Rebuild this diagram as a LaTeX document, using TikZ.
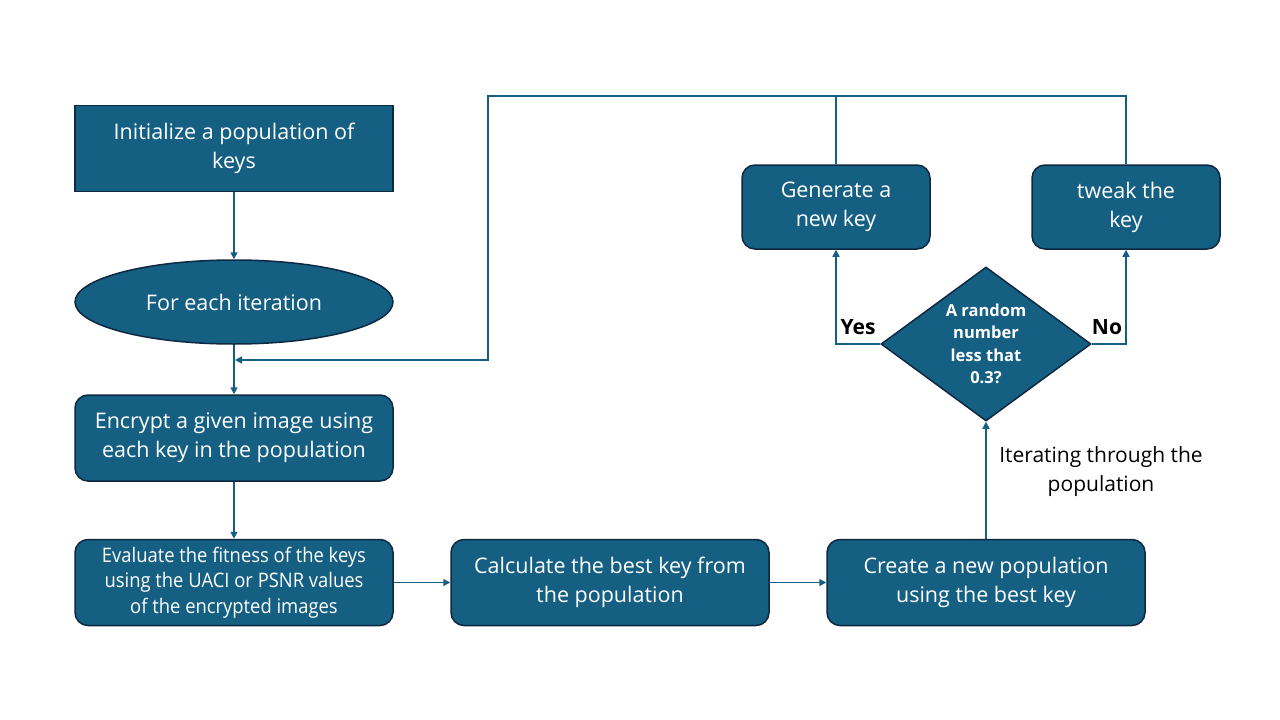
\documentclass[tikz,border=0pt]{standalone}
\usepackage{fontspec}
\setmainfont{Open Sans}
\newfontfamily\narrowfont[FakeStretch=0.92]{Open Sans}
\usetikzlibrary{shapes.geometric,arrows.meta}
\definecolor{boxfill}{HTML}{156082}
\definecolor{boxline}{HTML}{0E2841}
\begin{document}
\begin{tikzpicture}[x=1pt,y=-1pt,
  box/.style={draw=boxline,line width=1.5pt,fill=boxfill,text=white,align=center,
    minimum width=318pt,minimum height=86pt,inner sep=2pt,font=\fontsize{21.5}{29}\selectfont},
  rbox/.style={box,rounded corners=13pt},
  sbox/.style={rbox,minimum width=188pt,minimum height=84pt},
  conn/.style={draw=boxfill,line width=1.5pt,-{Triangle[length=7pt,width=7pt]}},
  plain/.style={draw=boxfill,line width=1.5pt},
  lbl/.style={font=\fontsize{21}{24}\selectfont\bfseries,text=black},
  note/.style={font=\fontsize{21}{29}\selectfont,text=black,align=center}]
\useasboundingbox (0,0) rectangle (1280,720);
\fill[white] (0,0) rectangle (1280,720);

\node[box] (init) at (234,148.5) {Initialize a population of\\keys};
\node[box,ellipse,minimum width=318pt,minimum height=84pt,inner sep=0pt] (iter) at (234,302) {For each iteration};
\node[rbox] (enc) at (234,438) {Encrypt a given image using\\each key in the population};
\node[rbox,font=\narrowfont\fontsize{20}{25.5}\selectfont] (eval) at (234,582.5) {Evaluate the fitness of the keys\\using the UACI or PSNR values\\of the encrypted images};
\node[rbox] (calc) at (610,582.5) {Calculate the best key from\\the population};
\node[rbox] (create) at (986,582.5) {Create a new population\\using the best key};
\node[draw=boxline,line width=1.5pt,fill=boxfill,text=white,diamond,aspect=1.36,
  minimum width=210pt,minimum height=154pt,inner sep=0pt,align=center,
  font=\fontsize{16.5}{22.5}\selectfont\bfseries] (dec) at (986,344) {A random\\number\\less that\\0.3?};
\node[sbox] (gen) at (836,207) {Generate a\\new key};
\node[sbox] (tweak) at (1126,207) {tweak the\\key};

\coordinate (join) at (234,360);
\coordinate (topL) at (836,96);

\draw[conn] (init) -- (iter);
\draw[conn] (iter) -- (enc);
\draw[conn] (enc) -- (eval);
\draw[conn] (eval) -- (calc);
\draw[conn] (calc) -- (create);
\draw[conn] (create) -- (dec);
\draw[conn] (dec.west) -| (gen.south);
\draw[conn] (dec.east) -| (tweak.south);
\draw[plain] (tweak.north) |- (topL);
\draw[conn] (gen.north) -- (topL) -- (488,96) -- (488,360) -- ([xshift=1pt]join);

\node[lbl] (yes) at (858,327) {Yes};
\node[lbl] (no) at (1107,327) {No};
\node[note] (itnote) at (1101,472) {Iterating through the\\population};
\end{tikzpicture}
\end{document}
